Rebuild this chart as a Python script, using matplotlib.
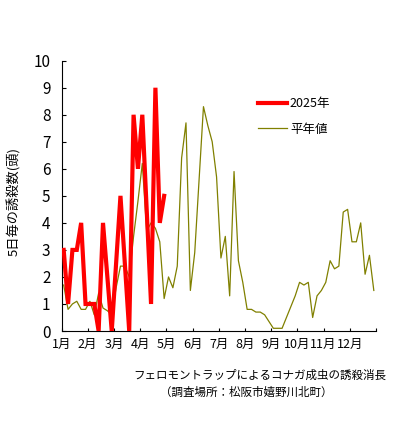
import matplotlib
matplotlib.use('Agg')
import matplotlib.pyplot as plt
import numpy as np

plt.rcParams['font.family'] = ['Noto Sans CJK JP', 'DejaVu Sans']

# 5日毎(半旬)の誘殺数
months = ['1月', '2月', '3月', '4月', '5月', '6月',
          '7月', '8月', '9月', '10月', '11月', '12月']

catch_2025 = [3, 1, 3, 3, 4, 1, 1, 1, 0, 4, 2, 0,
              2.5, 5, 2.5, 0, 8, 6, 8, 4.5, 1, 9, 4, 5]

catch_normal = [1.7, 0.8, 1.0, 1.1, 0.8, 0.8, 1.1, 0.6, 1.4, 0.85, 0.75, 0.6,
                1.6, 2.4, 2.4, 2.0, 3.5, 4.8, 6.2, 3.7, 4.0, 3.8, 3.3, 1.2,
                2.0, 1.6, 2.4, 6.4, 7.7, 1.5, 2.9, 5.6, 8.3, 7.6, 7.0, 5.7,
                2.7, 3.5, 1.3, 5.9, 2.6, 1.8, 0.8, 0.8, 0.7, 0.7, 0.6, 0.35,
                0.1, 0.1, 0.1, 0.5, 0.9, 1.3, 1.8, 1.7, 1.8, 0.5, 1.3, 1.5,
                1.8, 2.6, 2.3, 2.4, 4.4, 4.5, 3.3, 3.3, 4.0, 2.1, 2.8, 1.5]

fig = plt.figure(figsize=(3.95, 4.24), dpi=100)
ax = fig.add_axes([61.5 / 395, 1 - 331 / 424, (376 - 61.5) / 395, (331 - 60.7) / 424])

x_2025 = np.arange(len(catch_2025)) + 0.5
x_normal = np.arange(len(catch_normal)) + 0.5

ax.plot(x_2025, catch_2025, color='#ff0000', lw=3, solid_joinstyle='miter',
        label='2025年', zorder=3)
ax.plot(x_normal, catch_normal, color='#808000', lw=0.9, label='平年値', zorder=2)

ax.set_xlim(0, 72)
ax.set_ylim(0, 10)
ax.set_xticks(np.arange(0, 73, 6))
ax.set_xticklabels(months + [''])
ax.set_yticks(np.arange(0, 11, 1))

ax.tick_params(axis='y', direction='in', length=3, width=0.8, labelsize=11, pad=8)
ax.tick_params(axis='x', direction='in', length=2.5, width=0.8, labelsize=9, pad=5)
ax.spines['top'].set_visible(False)
ax.spines['right'].set_visible(False)

fig.text(14 / 395, 1 - 202 / 424, '5日毎の誘殺数(頭)', rotation=90,
         ha='center', va='center', fontsize=9.5)

ax.legend(loc='upper left', bbox_to_anchor=(258 / 395, 1 - 97 / 424),
          bbox_transform=fig.transFigure, frameon=False, fontsize=9,
          handlelength=2.3, handletextpad=0.25, labelspacing=1.0,
          borderpad=0, borderaxespad=0)

fig.text(260 / 395, 1 - 375 / 424, 'フェロモントラップによるコナガ成虫の誘殺消長',
         ha='center', va='center', fontsize=8.3)
fig.text(246 / 395, 1 - 392 / 424, '（調査場所：松阪市嬉野川北町）',
         ha='center', va='center', fontsize=8.3)

fig.savefig('out.png', dpi=100)
